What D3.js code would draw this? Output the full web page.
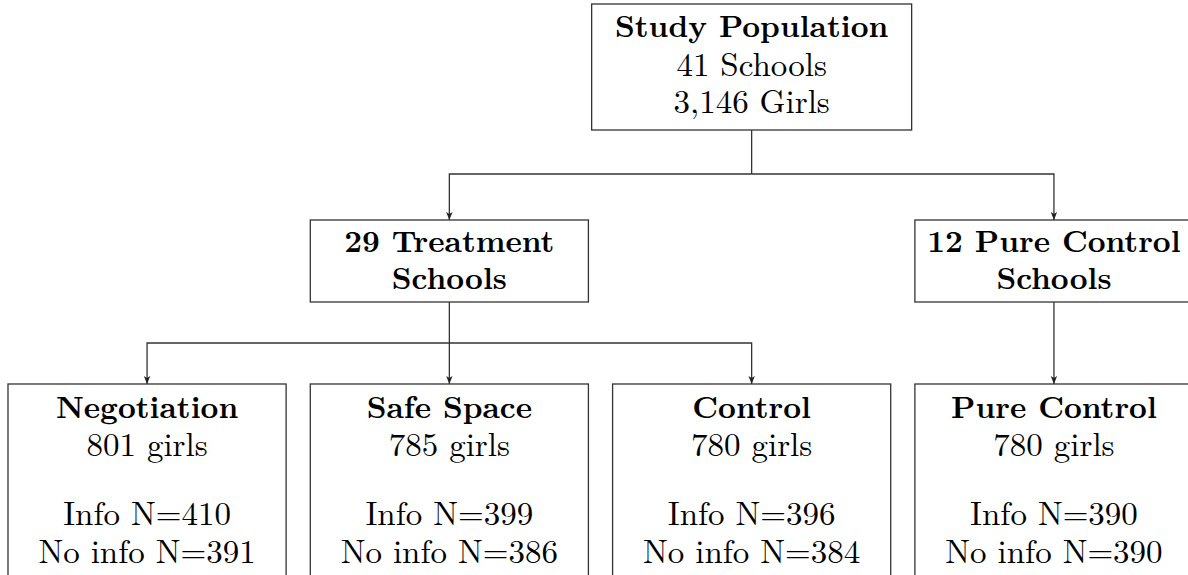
<!DOCTYPE html>
<html>
<head>
<meta charset="utf-8">
<script src="https://cdn.jsdelivr.net/npm/d3@7"></script>
<style>
  body { margin: 0; background: #fff; }
  text { font-family: "Latin Modern Roman", "CMU Serif", "Liberation Serif", serif; fill: #000; }
</style>
</head>
<body>
<div id="chart"></div>
<script>
// Chart data
var topTitle = 'Study Population';
var topLines = ['41 Schools', '3,146 Girls'];

var midTitles = [['29 Treatment', 'Schools'], ['12 Pure Control', 'Schools']];
var midColumns = [1, 3];

var armNames = ['Negotiation', 'Safe Space', 'Control', 'Pure Control'];
var armGirls = [801, 785, 780, 780];
var armInfo = [410, 399, 396, 390];
var armNoInfo = [391, 386, 384, 390];

var width = 1188, height = 575;
var boldSize = 31, plainSize = 33;

var svg = d3.select('#chart').append('svg')
    .attr('width', width)
    .attr('height', height);

// arrow tip
svg.append('defs').append('marker')
    .attr('id', 'tip')
    .attr('viewBox', '0 0 10 10')
    .attr('refX', 10).attr('refY', 5)
    .attr('markerWidth', 8).attr('markerHeight', 8)
    .attr('markerUnits', 'userSpaceOnUse')
    .attr('orient', 'auto')
    .append('path')
    .attr('d', 'M0,1 L10,5 L0,9 L2.5,5 Z')
    .style('fill', '#222');

// columns for the four arms
var x = d3.scaleBand()
    .domain(d3.range(armNames.length))
    .range([8, 1193])
    .paddingInner(0.08);

// row tops/bottoms
var y = d3.scaleOrdinal()
    .domain(['top', 'mid', 'bot'])
    .range([[4, 130], [220, 302], [384, 590]]);

var stroke = '#333';

function box(x0, x1, row) {
    svg.append('rect')
        .attr('x', x0).attr('y', y(row)[0])
        .attr('width', x1 - x0).attr('height', y(row)[1] - y(row)[0])
        .style('fill', 'none')
        .style('stroke', stroke)
        .style('stroke-width', 1.3);
}

// one text block per box, lines = [[string, bold, baseline], ...]
function label(cx, lines) {
    var t = svg.append('text')
        .attr('text-anchor', 'middle');
    lines.forEach(function(l) {
        t.append('tspan')
            .attr('x', cx).attr('y', l[2])
            .style('font-size', (l[1] ? boldSize : plainSize) + 'px')
            .style('font-weight', l[1] ? 'bold' : 'normal')
            .text(l[0]);
    });
}

function arrow(points) {
    svg.append('path')
        .attr('d', d3.line()(points))
        .style('fill', 'none')
        .style('stroke', stroke)
        .style('stroke-width', 1.3)
        .attr('marker-end', 'url(#tip)');
}

function cx(i) { return x(i) + x.bandwidth() / 2; }

// Top box
var topCx = cx(2);
box(topCx - 160, topCx + 160, 'top');
label(topCx, [[topTitle, true, 37], [topLines[0], false, 76], [topLines[1], false, 113]]);

// Middle boxes
midColumns.forEach(function(c, k) {
    box(x(c), x(c) + x.bandwidth(), 'mid');
    label(cx(c), [[midTitles[k][0], true, 252], [midTitles[k][1], true, 289]]);
});

// Bottom boxes
armNames.forEach(function(name, i) {
    box(x(i), x(i) + x.bandwidth(), 'bot');
    label(cx(i), [
        [name, true, 418],
        [armGirls[i] + ' girls', false, 456],
        ['Info N=' + armInfo[i], false, 525],
        ['No info N=' + armNoInfo[i], false, 563]
    ]);
});

// Connectors: top -> middle
var splitY1 = 174;
svg.append('path')
    .attr('d', d3.line()([[topCx, y('top')[1]], [topCx, splitY1]]))
    .style('fill', 'none').style('stroke', stroke).style('stroke-width', 1.3);
midColumns.forEach(function(c) {
    arrow([[topCx, splitY1], [cx(c), splitY1], [cx(c), y('mid')[0]]]);
});

// treatment -> three arms
var splitY2 = 343;
svg.append('path')
    .attr('d', d3.line()([[cx(1), y('mid')[1]], [cx(1), splitY2]]))
    .style('fill', 'none').style('stroke', stroke).style('stroke-width', 1.3);
[0, 1, 2].forEach(function(i) {
    arrow([[cx(1), splitY2], [cx(i), splitY2], [cx(i), y('bot')[0]]]);
});

// pure control schools -> pure control arm
arrow([[cx(3), y('mid')[1]], [cx(3), y('bot')[0]]]);
</script>
</body>
</html>
